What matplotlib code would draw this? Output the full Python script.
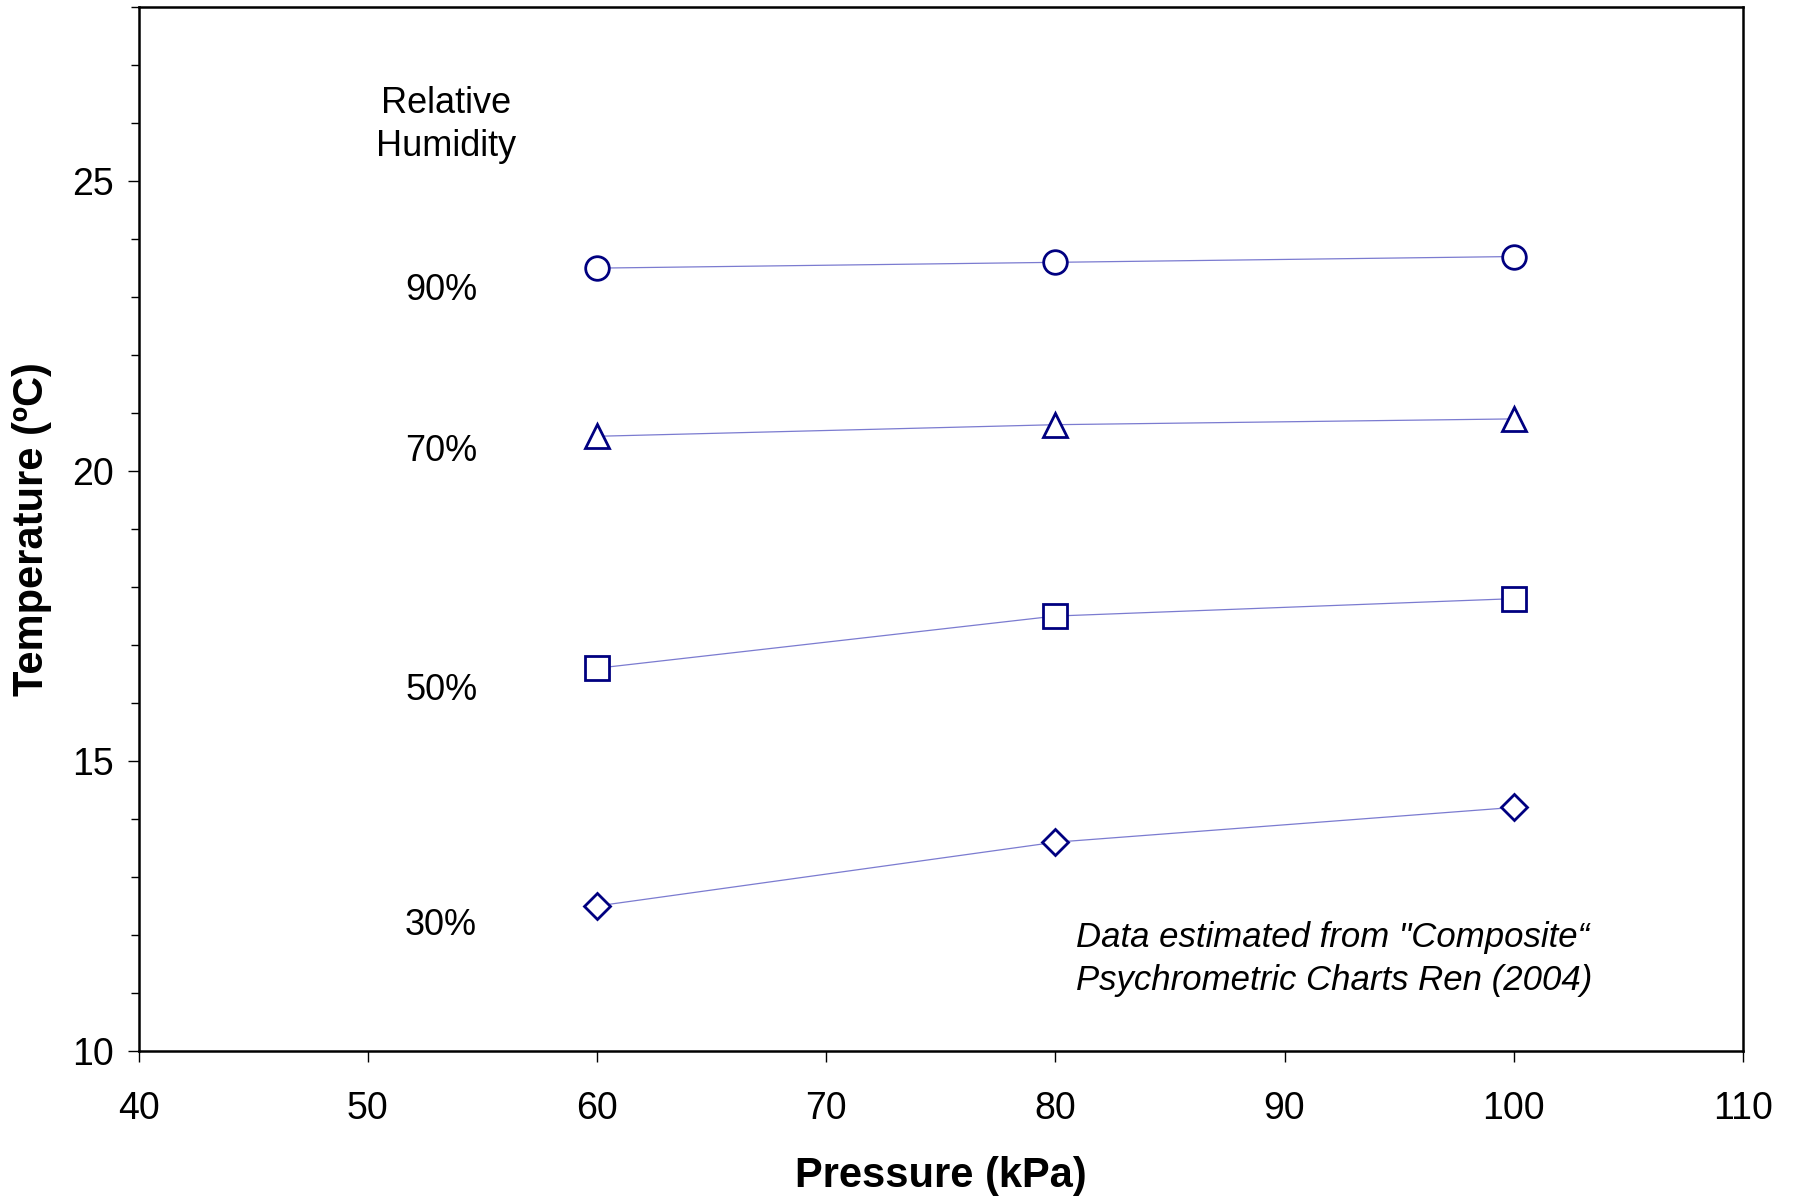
import matplotlib.pyplot as plt
from matplotlib.ticker import MultipleLocator

plt.rcParams['font.family'] = ['Liberation Sans', 'DejaVu Sans']

# Saturation temperatures at three pressures for each relative humidity
pressure = [60, 80, 100]
rh_labels = ["90%", "70%", "50%", "30%"]
temp_90 = [23.5, 23.6, 23.7]
temp_70 = [20.6, 20.8, 20.9]
temp_50 = [16.6, 17.5, 17.8]
temp_30 = [12.5, 13.6, 14.2]
markers = ["o", "^", "s", "D"]

fig = plt.figure(figsize=(17.95, 11.97), dpi=100)
ax = fig.add_axes([0.0772, 0.122, 0.8938, 0.872])

navy = "#000080"
line_col = "#7b7bd0"
sizes = {"o": 17, "^": 17, "s": 17, "D": 13}
for temps, mk in zip([temp_90, temp_70, temp_50, temp_30], markers):
    ax.plot(pressure, temps, color=line_col, lw=0.9, marker=mk,
            markersize=sizes[mk], markerfacecolor="white",
            markeredgecolor=navy, markeredgewidth=2.0)

# humidity labels down the left side
ax.text(53.4, 25.97, "Relative\nHumidity", ha="center", va="center",
        fontsize=26, linespacing=1.3)
label_y = [23.12, 20.33, 16.22, 12.17]
for lab, yy in zip(rh_labels, label_y):
    ax.text(53.2, yy, lab, ha="center", va="center", fontsize=26)

ax.text(80.9, 11.95, "Data estimated from \"Composite\u201c", ha="left",
        va="center", fontsize=25, style="italic")
ax.text(80.9, 11.21, "Psychrometric Charts Ren (2004)", ha="left",
        va="center", fontsize=25, style="italic")

ax.set_xlim(40, 110)
ax.set_ylim(10, 28)
ax.xaxis.set_major_locator(MultipleLocator(10))
ax.yaxis.set_major_locator(MultipleLocator(5))
ax.yaxis.set_minor_locator(MultipleLocator(1))
ax.tick_params(axis="both", which="major", direction="out", length=8,
               width=1.0, labelsize=27)
ax.tick_params(axis="x", which="major", pad=21)
ax.tick_params(axis="y", which="major", pad=10)
ax.tick_params(axis="y", which="minor", direction="out", length=6, width=1.0)

for sp in ax.spines.values():
    sp.set_linewidth(1.8)

ax.set_xlabel("Pressure (kPa)", fontsize=30, fontweight="bold", labelpad=21)
ax.set_ylabel("Temperature (\u00baC)", fontsize=30, fontweight="bold",
              labelpad=14)

fig.savefig("out.png", dpi=100)
